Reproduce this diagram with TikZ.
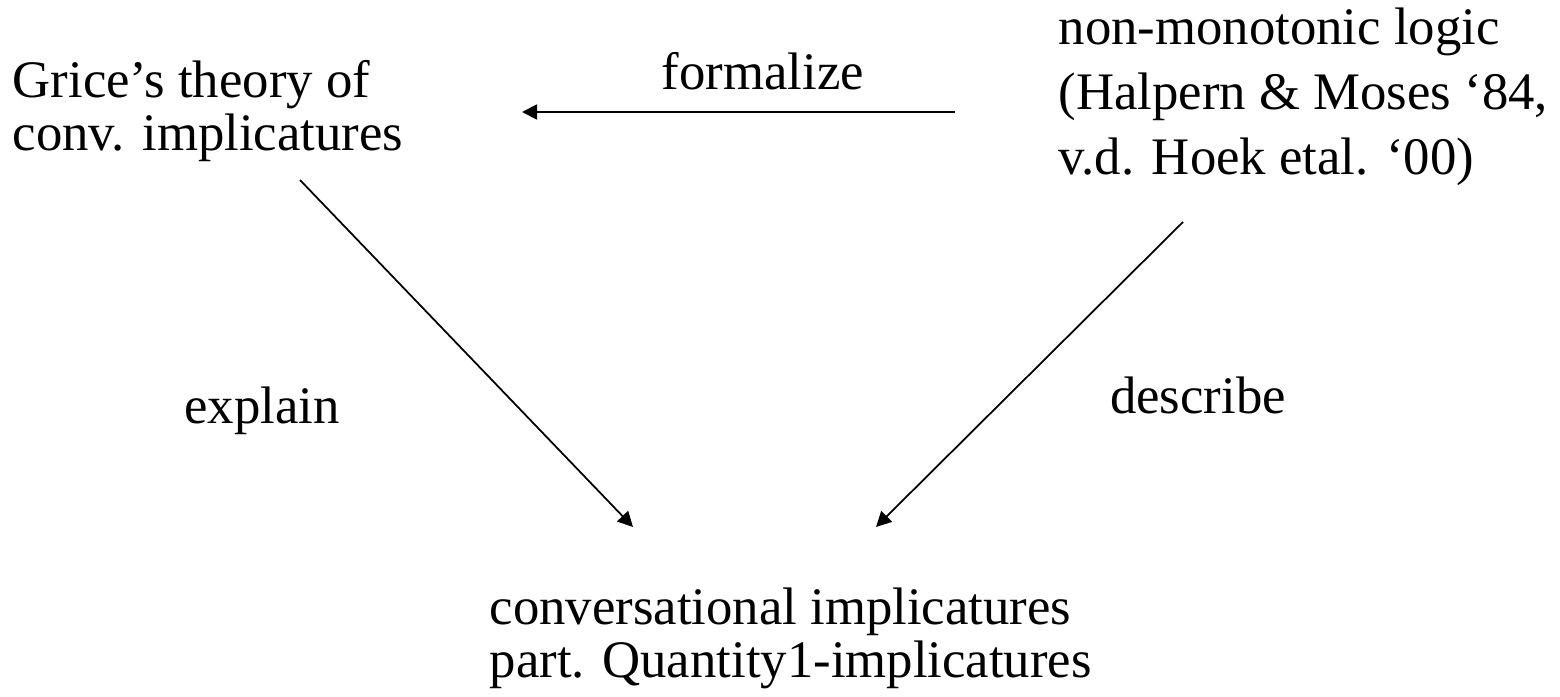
\documentclass[tikz,border=0pt]{standalone}
\usepackage{fontspec}
\setmainfont{Liberation Serif}
\usetikzlibrary{arrows.meta}

\begin{document}
\begin{tikzpicture}[
  x=0.01cm, y=-0.01cm,
  term/.style={inner sep=0pt, align=left, anchor=base west,
               font=\fontsize{15}{15}\selectfont},
  wideterm/.style={term, font=\fontsize{15}{18.4}\selectfont},
  verb/.style={inner sep=0pt, anchor=base, font=\fontsize{15}{15}\selectfont},
  link/.style={-{Triangle[length=4.3pt,width=4.3pt]}, line width=0.5pt},
]
\useasboundingbox (0,0) rectangle (1560,697);

% base anchor sits on the last line
\node[term] (grice) at (12,150) {Grice’s theory of\\conv. implicatures};
\node[wideterm] (nonmono) at (1058,174) {non-monotonic logic\\(Halpern \& Moses ‘84,\\v.d. Hoek etal. ‘00)};
\node[term] (conv) at (489,677) {conversational implicatures\\part. Quantity1-implicatures};

\node[verb] (formalize) at (763,89) {formalize};
\node[verb] (explain) at (262,423) {explain};
\node[verb] (describe) at (1198,413) {describe};

% free ends of the connectors
\coordinate (nonmono-out) at (955,112);
\coordinate (grice-in) at (522,112);
\coordinate (grice-out) at (300,180);
\coordinate (nonmono-down) at (1183,222);
\coordinate (conv-left) at (633,527);
\coordinate (conv-right) at (876,527);

\draw[link] (nonmono-out) -- (grice-in);
\draw[link] (grice-out) -- (conv-left);
\draw[link] (nonmono-down) -- (conv-right);
\end{tikzpicture}
\end{document}
